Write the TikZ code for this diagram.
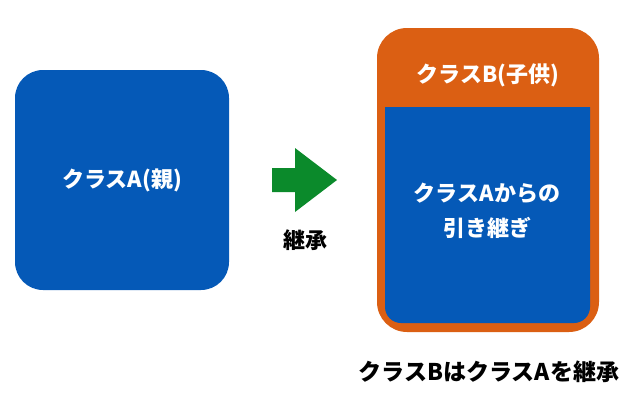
\documentclass[tikz,border=0pt]{standalone}
\usepackage{fontspec}
\setmainfont{Noto Sans CJK JP}
\usetikzlibrary{positioning}
\definecolor{classblue}{HTML}{0559B7}
\definecolor{childorange}{HTML}{DB5F13}
\definecolor{inherit}{HTML}{0B8A2B}

\begin{document}
\begin{tikzpicture}[x=1pt,y=-1pt,
  label/.style={font=\fontsize{22}{35}\selectfont\bfseries,align=center},
  whitelabel/.style={label,text=white}]
  \useasboundingbox (0,0) rectangle (640,402);

  % Parent class
  \node[fill=classblue,rounded corners=28pt,minimum width=214pt,minimum height=220pt,
        whitelabel] (parent) at (122,180) {クラスA(親)};

  % Inheritance arrow
  \fill[inherit] (272,168) -- (295,168) -- (295,148) -- (337,180)
    -- (295,212) -- (295,192) -- (272,192) -- cycle;
  \node[label] (inheritlabel) at (305,240) {継承};

  % Child class
  \node[fill=childorange,rounded corners=30pt,minimum width=222pt,minimum height=304pt]
    (child) at (488,180) {};
  \fill[classblue] (385,107) -- (590,107) [rounded corners=16pt] -- (590,323)
    -- (385,323) [sharp corners] -- cycle;
  \node[whitelabel] (childtitle) at (488,75) {クラスB(子供)};
  \node[whitelabel] (inherited) at (487,211) {クラスAからの\\引き継ぎ};

  % Caption
  \node[label,font=\fontsize{23}{26}\selectfont\bfseries] (caption) at (489,372)
    {クラスBはクラスAを継承};
\end{tikzpicture}
\end{document}
